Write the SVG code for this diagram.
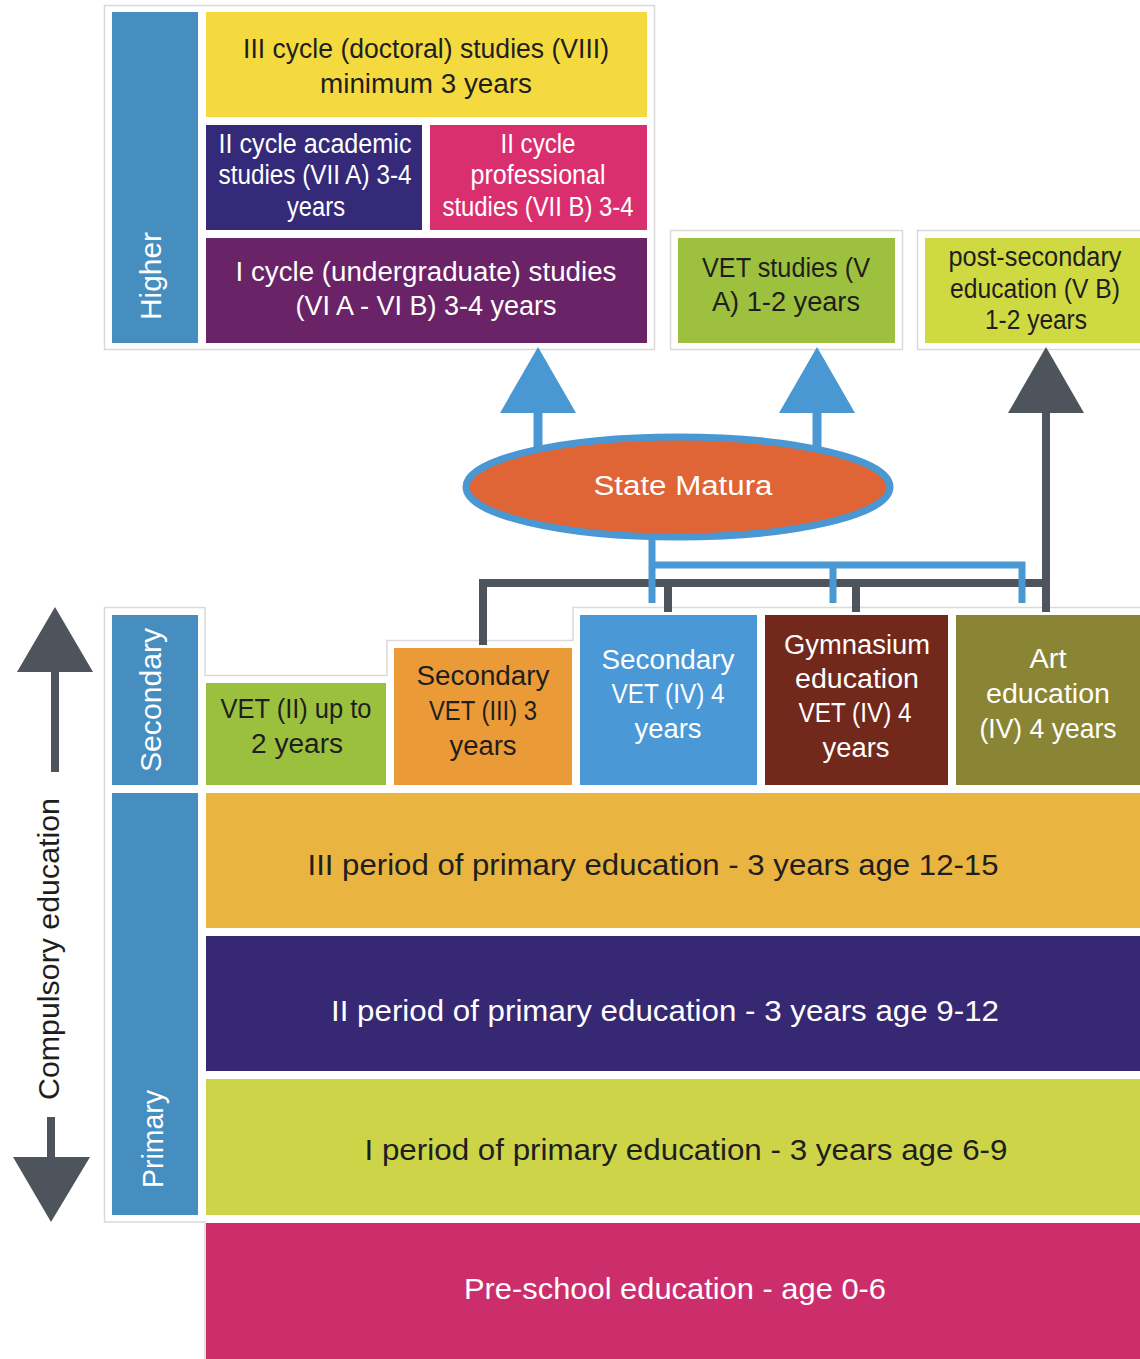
<svg xmlns="http://www.w3.org/2000/svg" width="1140" height="1359" viewBox="0 0 1140 1359">
<style>
text{font-family:"Liberation Sans",Arial,sans-serif;text-anchor:middle;}
.d{fill:#1e1e1e;}
.w{fill:#ffffff;}
.t27{font-size:27px;}
.t30{font-size:30px;}
.frame{fill:#ffffff;stroke:#d9d9d9;stroke-width:1.5;}
.bar{fill:#468dc0;}
.blue{stroke:#4a98d3;fill:none;}
.gray{stroke:#4d545c;fill:none;}
</style>
<rect width="1140" height="1359" fill="#ffffff"/>

<!-- frames -->
<g id="frames">
<rect class="frame" x="104.5" y="5.5" width="550" height="344"/>
<rect class="frame" x="670.5" y="230.5" width="232" height="119"/>
<rect class="frame" x="917.5" y="230.5" width="230" height="119"/>
<path d="M205 1359 L205 1222 L104.5 1222 L104.5 607.5 L205 607.5 L205 675.5 L387 675.5 L387 640.5 L573 640.5 L573 607.5 L1140 607.5" fill="none" stroke="#d9d9d9" stroke-width="1.5"/>
</g>

<!-- Higher -->
<g id="higher">
<rect class="bar" x="112" y="12" width="86" height="331"/>
<text class="w t30" transform="translate(161 276) rotate(-90)" x="0" y="0" textLength="88" lengthAdjust="spacingAndGlyphs">Higher</text>
</g>
<g id="doctoral">
<rect x="206" y="12" width="441" height="105" fill="#f4da3f"/>
<text class="d t27" x="426" y="58" textLength="366" lengthAdjust="spacingAndGlyphs">III cycle (doctoral) studies (VIII)</text>
<text class="d t27" x="426" y="93" textLength="212" lengthAdjust="spacingAndGlyphs">minimum 3 years</text>
</g>
<g id="academic">
<rect x="206" y="125" width="216" height="105" fill="#352a7a"/>
<text class="w t27" x="315" y="153" textLength="193" lengthAdjust="spacingAndGlyphs">II cycle academic</text>
<text class="w t27" x="315" y="184" textLength="193" lengthAdjust="spacingAndGlyphs">studies (VII A) 3-4</text>
<text class="w t27" x="316" y="216" textLength="58" lengthAdjust="spacingAndGlyphs">years</text>
</g>
<g id="professional">
<rect x="430" y="125" width="217" height="105" fill="#da2f6e"/>
<text class="w t27" x="538" y="153" textLength="75" lengthAdjust="spacingAndGlyphs">II cycle</text>
<text class="w t27" x="538" y="184" textLength="135" lengthAdjust="spacingAndGlyphs">professional</text>
<text class="w t27" x="538" y="216" textLength="191" lengthAdjust="spacingAndGlyphs">studies (VII B) 3-4</text>
</g>
<g id="undergraduate">
<rect x="206" y="238" width="441" height="105" fill="#6b2368"/>
<text class="w t27" x="426" y="281" textLength="381" lengthAdjust="spacingAndGlyphs">I cycle (undergraduate) studies</text>
<text class="w t27" x="426" y="315" textLength="261" lengthAdjust="spacingAndGlyphs">(VI A - VI B) 3-4 years</text>
</g>
<g id="vet-studies">
<rect x="678" y="238" width="217" height="105" fill="#9dc13f"/>
<text class="d t27" x="786" y="277" textLength="168" lengthAdjust="spacingAndGlyphs">VET studies (V</text>
<text class="d t27" x="786" y="311" textLength="148" lengthAdjust="spacingAndGlyphs">A) 1-2 years</text>
</g>
<g id="post-secondary">
<rect x="925" y="238" width="215" height="105" fill="#cfda42"/>
<text class="d t27" x="1035" y="266" textLength="173" lengthAdjust="spacingAndGlyphs">post-secondary</text>
<text class="d t27" x="1035" y="298" textLength="170" lengthAdjust="spacingAndGlyphs">education (V B)</text>
<text class="d t27" x="1036" y="329" textLength="102" lengthAdjust="spacingAndGlyphs">1-2 years</text>
</g>

<!-- connectors -->
<g id="connectors">
<line class="blue" x1="538" y1="410" x2="538" y2="450" stroke-width="9"/>
<line class="blue" x1="817" y1="410" x2="817" y2="450" stroke-width="9"/>
<polygon points="538,347 500,413 576,413" fill="#4a98d3"/>
<polygon points="817,347 779,413 855,413" fill="#4a98d3"/>
<line class="gray" x1="1046" y1="410" x2="1046" y2="612" stroke-width="8"/>
<polygon points="1046,347 1008,413 1084,413" fill="#4d545c"/>
<path class="gray" d="M483 645 L483 583 L1046 583 M668 583 L668 612 M856 583 L856 612" stroke-width="8"/>
<path class="blue" d="M652 525 L652 603 M652 565 L1022 565 L1022 603 M833 565 L833 603" stroke-width="7"/>
<!-- compulsory arrows -->
<line class="gray" x1="55" y1="668" x2="55" y2="772" stroke-width="8"/>
<polygon points="55,607 17,672 93,672" fill="#4d545c"/>
<line class="gray" x1="51" y1="1117" x2="51" y2="1162" stroke-width="8"/>
<polygon points="13,1157 90,1157 51,1222" fill="#4d545c"/>
</g>

<g id="matura">
<ellipse cx="678" cy="487" rx="212" ry="50" fill="#df6436" stroke="#4a98d3" stroke-width="7"/>
<text class="w t27" x="683" y="495" textLength="179" lengthAdjust="spacingAndGlyphs">State Matura</text>
</g>

<g id="compulsory">
<text class="d t30" transform="translate(59 949) rotate(-90)" x="0" y="0" textLength="302" lengthAdjust="spacingAndGlyphs">Compulsory education</text>
</g>

<!-- Secondary -->
<g id="secondary">
<rect class="bar" x="112" y="615" width="86" height="170"/>
<text class="w t30" transform="translate(161 700) rotate(-90)" x="0" y="0" textLength="144" lengthAdjust="spacingAndGlyphs">Secondary</text>
</g>
<g id="vet2">
<rect x="206" y="683" width="180" height="102" fill="#9bc03e"/>
<text class="d t27" x="296" y="718" textLength="151" lengthAdjust="spacingAndGlyphs">VET (II) up to</text>
<text class="d t27" x="297" y="753" textLength="92" lengthAdjust="spacingAndGlyphs">2 years</text>
</g>
<g id="vet3">
<rect x="394" y="648" width="178" height="137" fill="#eb9a38"/>
<text class="d t27" x="483" y="685" textLength="133" lengthAdjust="spacingAndGlyphs">Secondary</text>
<text class="d t27" x="483" y="720" textLength="108" lengthAdjust="spacingAndGlyphs">VET (III) 3</text>
<text class="d t27" x="483" y="755" textLength="67" lengthAdjust="spacingAndGlyphs">years</text>
</g>
<g id="vet4">
<rect x="580" y="615" width="177" height="170" fill="#4a98d6"/>
<text class="w t27" x="668" y="669" textLength="133" lengthAdjust="spacingAndGlyphs">Secondary</text>
<text class="w t27" x="668" y="703" textLength="113" lengthAdjust="spacingAndGlyphs">VET (IV) 4</text>
<text class="w t27" x="668" y="738" textLength="67" lengthAdjust="spacingAndGlyphs">years</text>
</g>
<g id="gymnasium">
<rect x="765" y="615" width="183" height="170" fill="#72281a"/>
<text class="w t27" x="857" y="654" textLength="146" lengthAdjust="spacingAndGlyphs">Gymnasium</text>
<text class="w t27" x="857" y="688" textLength="124" lengthAdjust="spacingAndGlyphs">education</text>
<text class="w t27" x="855" y="722" textLength="113" lengthAdjust="spacingAndGlyphs">VET (IV) 4</text>
<text class="w t27" x="856" y="757" textLength="67" lengthAdjust="spacingAndGlyphs">years</text>
</g>
<g id="art">
<rect x="956" y="615" width="184" height="170" fill="#8a8535"/>
<text class="w t27" x="1048" y="668" textLength="37" lengthAdjust="spacingAndGlyphs">Art</text>
<text class="w t27" x="1048" y="703" textLength="124" lengthAdjust="spacingAndGlyphs">education</text>
<text class="w t27" x="1048" y="738" textLength="137" lengthAdjust="spacingAndGlyphs">(IV) 4 years</text>
</g>

<!-- Primary -->
<g id="primary">
<rect class="bar" x="112" y="793" width="86" height="422"/>
<text class="w t30" transform="translate(163 1139) rotate(-90)" x="0" y="0" textLength="98" lengthAdjust="spacingAndGlyphs">Primary</text>
</g>
<g id="period3">
<rect x="206" y="793" width="934" height="135" fill="#e9b43f"/>
<text class="d t30" x="653" y="875" textLength="691" lengthAdjust="spacingAndGlyphs">III period of primary education - 3 years age 12-15</text>
</g>
<g id="period2">
<rect x="206" y="936" width="934" height="135" fill="#362872"/>
<text class="w t30" x="665" y="1021" textLength="668" lengthAdjust="spacingAndGlyphs">II period of primary education - 3 years age 9-12</text>
</g>
<g id="period1">
<rect x="206" y="1079" width="934" height="136" fill="#cdd448"/>
<text class="d t30" x="686" y="1160" textLength="643" lengthAdjust="spacingAndGlyphs">I period of primary education - 3 years age 6-9</text>
</g>
<g id="preschool">
<rect x="206" y="1223" width="934" height="136" fill="#cc2e6c"/>
<text class="w t30" x="675" y="1299" textLength="422" lengthAdjust="spacingAndGlyphs">Pre-school education - age 0-6</text>
</g>
</svg>
